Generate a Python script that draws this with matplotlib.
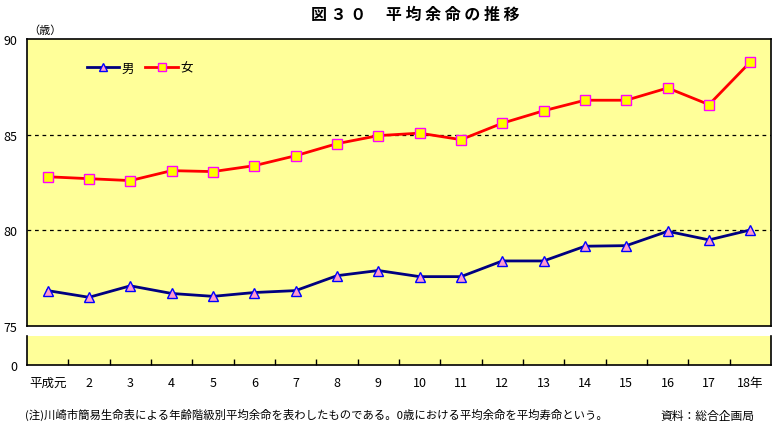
import numpy as np
import matplotlib.pyplot as plt

plt.rcParams['font.family'] = ['Noto Sans CJK JP', 'DejaVu Sans']

years = ['平成元', '2', '3', '4', '5', '6', '7', '8', '9', '10',
         '11', '12', '13', '14', '15', '16', '17', '18年']
male = [76.85, 76.5, 77.1, 76.7, 76.55, 76.75, 76.85, 77.63, 77.9, 77.58,
        77.58, 78.4, 78.4, 79.17, 79.2, 79.95, 79.5, 80.02]
female = [82.8, 82.7, 82.6, 83.12, 83.07, 83.38, 83.9, 84.53, 84.95, 85.08,
          84.74, 85.6, 86.25, 86.8, 86.8, 87.44, 86.57, 88.8]

bg = '#FFFF99'
W, H = 779, 431
fig = plt.figure(figsize=(W / 100, H / 100), dpi=100)

def box(x0, y0, x1, y1):
    return [x0 / W, 1 - y1 / H, (x1 - x0) / W, (y1 - y0) / H]

ax = fig.add_axes(box(27, 40, 771, 327))
ax2 = fig.add_axes(box(27, 337, 771, 366))
x = np.arange(len(years))

for a in (ax, ax2):
    a.set_facecolor(bg)
    a.set_xlim(-0.5, len(years) - 0.5)
    for s in a.spines.values():
        s.set_linewidth(1.2)

ax.plot(x, male, color='#000080', lw=2, marker='^', ms=7.5,
        mfc='#FF99CC', mec='#0000FF', mew=1, label='男', zorder=3)
ax.plot(x, female, color='#FF0000', lw=2, marker='s', ms=7,
        mfc='#FFFF00', mec='#FF00FF', mew=1, label='女', zorder=3)

ax.set_ylim(75, 90)
ax.set_yticks([75, 80, 85, 90])
ax.set_yticklabels(['75', '80', '85', '90'], fontsize=9)
ax.tick_params(axis='y', length=0, pad=7)
ax.set_xticks([])
for v in (80, 85):
    ax.axhline(v, color='black', lw=0.9, ls=(0, (3, 3)), zorder=1)

ax2.set_ylim(0, 1)
ax2.set_yticks([0])
ax2.set_yticklabels(['0'], fontsize=9)
ax2.tick_params(axis='y', length=0, pad=7)
ax2.spines['top'].set_visible(False)
ax2.set_xticks(np.arange(0.5, len(years) - 1, 1))
ax2.set_xticklabels([])
ax2.set_xticks(x, minor=True)
ax2.set_xticklabels(years, minor=True, fontsize=9)
ax2.tick_params(axis='x', which='major', direction='in', length=4, width=1)
ax2.tick_params(axis='x', which='minor', length=0, pad=8)

leg = ax.legend(loc='upper left', bbox_to_anchor=(0.065, 0.96), ncol=2,
                frameon=False, fontsize=9, handlelength=2.6, markerscale=0.8,
                columnspacing=0.9, handletextpad=0.2)

fig.text(415 / W, 1 - 15 / H, '図 ３ ０ 　平 均 余 命 の 推 移', ha='center',
         va='center', fontsize=11.5, fontweight='bold')
fig.text(28 / W, 1 - 31 / H, '（歳）', ha='left', va='center', fontsize=8)
fig.text(25 / W, 1 - 415 / H,
         '(注)川崎市簡易生命表による年齢階級別平均余命を表わしたものである。0歳における平均余命を平均寿命という。',
         ha='left', va='center', fontsize=8.2)
fig.text(660 / W, 1 - 417 / H, '資料：総合企画局', ha='left', va='center',
         fontsize=8.5)

fig.savefig('out.png', dpi=100, facecolor='white')
